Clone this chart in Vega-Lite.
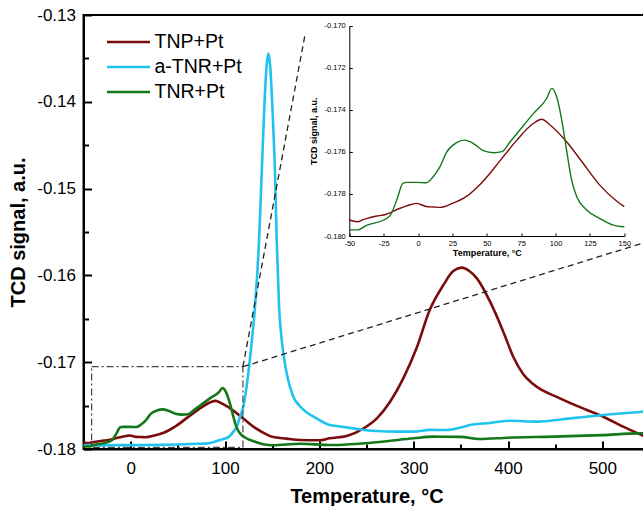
{
  "$schema": "https://vega.github.io/schema/vega-lite/v6.json",
  "width": 566,
  "height": 434,
  "autosize": {"type": "none"},
  "padding": {"left": 83.5, "top": 15, "right": 0, "bottom": 57},
  "config": {
    "font": "Liberation Sans",
    "view": {"stroke": "black", "strokeWidth": 2},
    "locale": {"number": {"decimal": ".", "thousands": ",", "grouping": [3], "currency": ["$", ""], "minus": "-"}},
    "axis": {"grid": false, "labelFlush": false, "labelOverlap": false, "domainColor": "black", "tickColor": "black", "labelColor": "black", "titleColor": "black", "ticks": true, "zindex": 1}
  },
  "datasets": {
    "d": [
      {"s": "TNP+Pt", "t": -50, "v": -0.17924}, {"s": "TNP+Pt", "t": -44, "v": -0.17932}, {"s": "TNP+Pt", "t": -40, "v": -0.17922}, {"s": "TNP+Pt", "t": -37, "v": -0.17916}, {"s": "TNP+Pt", "t": -30, "v": -0.17905}, {"s": "TNP+Pt", "t": -25, "v": -0.179}, {"s": "TNP+Pt", "t": -13, "v": -0.17868}, {"s": "TNP+Pt", "t": -5, "v": -0.1785}, {"s": "TNP+Pt", "t": -1, "v": -0.17845}, {"s": "TNP+Pt", "t": 6, "v": -0.1786}, {"s": "TNP+Pt", "t": 11, "v": -0.17862}, {"s": "TNP+Pt", "t": 16, "v": -0.17864}, {"s": "TNP+Pt", "t": 25, "v": -0.17845}, {"s": "TNP+Pt", "t": 35, "v": -0.17813}, {"s": "TNP+Pt", "t": 47, "v": -0.17742}, {"s": "TNP+Pt", "t": 60, "v": -0.17639}, {"s": "TNP+Pt", "t": 72, "v": -0.17543}, {"s": "TNP+Pt", "t": 84, "v": -0.17464}, {"s": "TNP+Pt", "t": 90, "v": -0.17445}, {"s": "TNP+Pt", "t": 96, "v": -0.17472}, {"s": "TNP+Pt", "t": 108, "v": -0.17552}, {"s": "TNP+Pt", "t": 120, "v": -0.17654}, {"s": "TNP+Pt", "t": 132, "v": -0.17757}, {"s": "TNP+Pt", "t": 145, "v": -0.17837}, {"s": "TNP+Pt", "t": 150, "v": -0.1786}, {"s": "TNP+Pt", "t": 165, "v": -0.1788}, {"s": "TNP+Pt", "t": 180, "v": -0.17896}, {"s": "TNP+Pt", "t": 200, "v": -0.179}, {"s": "TNP+Pt", "t": 211, "v": -0.17877}, {"s": "TNP+Pt", "t": 229, "v": -0.1785}, {"s": "TNP+Pt", "t": 247, "v": -0.17762}, {"s": "TNP+Pt", "t": 261, "v": -0.17647}, {"s": "TNP+Pt", "t": 275, "v": -0.17455}, {"s": "TNP+Pt", "t": 289, "v": -0.17186}, {"s": "TNP+Pt", "t": 303, "v": -0.1684}, {"s": "TNP+Pt", "t": 317, "v": -0.16399}, {"s": "TNP+Pt", "t": 331.5, "v": -0.16111}, {"s": "TNP+Pt", "t": 342, "v": -0.1595}, {"s": "TNP+Pt", "t": 351, "v": -0.15911}, {"s": "TNP+Pt", "t": 359, "v": -0.1595}, {"s": "TNP+Pt", "t": 367, "v": -0.16034}, {"s": "TNP+Pt", "t": 381, "v": -0.16303}, {"s": "TNP+Pt", "t": 395, "v": -0.16648}, {"s": "TNP+Pt", "t": 405.7, "v": -0.1694}, {"s": "TNP+Pt", "t": 416, "v": -0.17135}, {"s": "TNP+Pt", "t": 427, "v": -0.17255}, {"s": "TNP+Pt", "t": 455, "v": -0.17416}, {"s": "TNP+Pt", "t": 483.6, "v": -0.1755}, {"s": "TNP+Pt", "t": 501, "v": -0.17628}, {"s": "TNP+Pt", "t": 522, "v": -0.17743}, {"s": "TNP+Pt", "t": 541.6, "v": -0.17839}, {"s": "TNP+Pt", "t": 550, "v": -0.1788},
      {"s": "a-TNR+Pt", "t": -50, "v": -0.1796}, {"s": "a-TNR+Pt", "t": -45, "v": -0.17955}, {"s": "a-TNR+Pt", "t": -30, "v": -0.17958}, {"s": "a-TNR+Pt", "t": -15, "v": -0.17955}, {"s": "a-TNR+Pt", "t": 0, "v": -0.17955}, {"s": "a-TNR+Pt", "t": 12, "v": -0.17954}, {"s": "a-TNR+Pt", "t": 30, "v": -0.17952}, {"s": "a-TNR+Pt", "t": 50, "v": -0.17948}, {"s": "a-TNR+Pt", "t": 70, "v": -0.1794}, {"s": "a-TNR+Pt", "t": 82, "v": -0.17935}, {"s": "a-TNR+Pt", "t": 95, "v": -0.17896}, {"s": "a-TNR+Pt", "t": 104, "v": -0.1786}, {"s": "a-TNR+Pt", "t": 109, "v": -0.178}, {"s": "a-TNR+Pt", "t": 112.4, "v": -0.17743}, {"s": "a-TNR+Pt", "t": 116, "v": -0.17628}, {"s": "a-TNR+Pt", "t": 119.4, "v": -0.17513}, {"s": "a-TNR+Pt", "t": 124.7, "v": -0.17128}, {"s": "a-TNR+Pt", "t": 128, "v": -0.168}, {"s": "a-TNR+Pt", "t": 131.8, "v": -0.16361}, {"s": "a-TNR+Pt", "t": 136.1, "v": -0.15592}, {"s": "a-TNR+Pt", "t": 138.9, "v": -0.14824}, {"s": "a-TNR+Pt", "t": 141.7, "v": -0.14056}, {"s": "a-TNR+Pt", "t": 144, "v": -0.136}, {"s": "a-TNR+Pt", "t": 145.9, "v": -0.13441}, {"s": "a-TNR+Pt", "t": 148, "v": -0.136}, {"s": "a-TNR+Pt", "t": 150.2, "v": -0.14056}, {"s": "a-TNR+Pt", "t": 153, "v": -0.14824}, {"s": "a-TNR+Pt", "t": 154.8, "v": -0.15592}, {"s": "a-TNR+Pt", "t": 157.3, "v": -0.16361}, {"s": "a-TNR+Pt", "t": 160.1, "v": -0.16744}, {"s": "a-TNR+Pt", "t": 165.4, "v": -0.17128}, {"s": "a-TNR+Pt", "t": 172.4, "v": -0.17397}, {"s": "a-TNR+Pt", "t": 180, "v": -0.17513}, {"s": "a-TNR+Pt", "t": 197, "v": -0.17647}, {"s": "a-TNR+Pt", "t": 211, "v": -0.17724}, {"s": "a-TNR+Pt", "t": 222, "v": -0.1774}, {"s": "a-TNR+Pt", "t": 236, "v": -0.17762}, {"s": "a-TNR+Pt", "t": 247, "v": -0.17781}, {"s": "a-TNR+Pt", "t": 261, "v": -0.17793}, {"s": "a-TNR+Pt", "t": 282, "v": -0.178}, {"s": "a-TNR+Pt", "t": 300, "v": -0.178}, {"s": "a-TNR+Pt", "t": 317, "v": -0.1778}, {"s": "a-TNR+Pt", "t": 335, "v": -0.17781}, {"s": "a-TNR+Pt", "t": 353, "v": -0.17743}, {"s": "a-TNR+Pt", "t": 360, "v": -0.17724}, {"s": "a-TNR+Pt", "t": 381, "v": -0.177}, {"s": "a-TNR+Pt", "t": 402, "v": -0.17674}, {"s": "a-TNR+Pt", "t": 430, "v": -0.17685}, {"s": "a-TNR+Pt", "t": 466, "v": -0.17647}, {"s": "a-TNR+Pt", "t": 501, "v": -0.17608}, {"s": "a-TNR+Pt", "t": 541.6, "v": -0.1757}, {"s": "a-TNR+Pt", "t": 550, "v": -0.1756},
      {"s": "TNR+Pt", "t": -50, "v": -0.17971}, {"s": "TNR+Pt", "t": -44, "v": -0.17971}, {"s": "TNR+Pt", "t": -37, "v": -0.17948}, {"s": "TNR+Pt", "t": -25, "v": -0.17924}, {"s": "TNR+Pt", "t": -20, "v": -0.179}, {"s": "TNR+Pt", "t": -15.5, "v": -0.17829}, {"s": "TNR+Pt", "t": -11, "v": -0.1775}, {"s": "TNR+Pt", "t": -8, "v": -0.17745}, {"s": "TNR+Pt", "t": -1, "v": -0.17745}, {"s": "TNR+Pt", "t": 6, "v": -0.17747}, {"s": "TNR+Pt", "t": 11, "v": -0.17718}, {"s": "TNR+Pt", "t": 16, "v": -0.1767}, {"s": "TNR+Pt", "t": 21, "v": -0.17599}, {"s": "TNR+Pt", "t": 28, "v": -0.17556}, {"s": "TNR+Pt", "t": 34, "v": -0.17544}, {"s": "TNR+Pt", "t": 40, "v": -0.17559}, {"s": "TNR+Pt", "t": 47.5, "v": -0.17594}, {"s": "TNR+Pt", "t": 55, "v": -0.17604}, {"s": "TNR+Pt", "t": 61, "v": -0.17599}, {"s": "TNR+Pt", "t": 67, "v": -0.17552}, {"s": "TNR+Pt", "t": 74, "v": -0.17496}, {"s": "TNR+Pt", "t": 84, "v": -0.17417}, {"s": "TNR+Pt", "t": 93.6, "v": -0.17345}, {"s": "TNR+Pt", "t": 97.2, "v": -0.17298}, {"s": "TNR+Pt", "t": 100.8, "v": -0.17338}, {"s": "TNR+Pt", "t": 104.5, "v": -0.17448}, {"s": "TNR+Pt", "t": 108, "v": -0.17591}, {"s": "TNR+Pt", "t": 111.7, "v": -0.17734}, {"s": "TNR+Pt", "t": 115.4, "v": -0.17813}, {"s": "TNR+Pt", "t": 122.6, "v": -0.17876}, {"s": "TNR+Pt", "t": 132, "v": -0.17916}, {"s": "TNR+Pt", "t": 142, "v": -0.17948}, {"s": "TNR+Pt", "t": 150, "v": -0.17956}, {"s": "TNR+Pt", "t": 180, "v": -0.1794}, {"s": "TNR+Pt", "t": 211, "v": -0.17954}, {"s": "TNR+Pt", "t": 266, "v": -0.17916}, {"s": "TNR+Pt", "t": 300, "v": -0.17877}, {"s": "TNR+Pt", "t": 321, "v": -0.17858}, {"s": "TNR+Pt", "t": 350, "v": -0.1786}, {"s": "TNR+Pt", "t": 370, "v": -0.17885}, {"s": "TNR+Pt", "t": 400, "v": -0.1787}, {"s": "TNR+Pt", "t": 448, "v": -0.17858}, {"s": "TNR+Pt", "t": 500, "v": -0.1784}, {"s": "TNR+Pt", "t": 539, "v": -0.1782}, {"s": "TNR+Pt", "t": 550, "v": -0.1782}
    ],
    "box": [{"x1": -41.4, "x2": 119, "y1": -0.17981, "y2": -0.17052}],
    "conn": [
      {"x1": 119, "y1": -0.17052, "x2": 184.8, "y2": -0.1323},
      {"x1": 119, "y1": -0.17052, "x2": 550, "y2": -0.15604}
    ]
  },
  "resolve": {"scale": {"x": "independent", "y": "independent"}, "axis": {"x": "independent", "y": "independent"}},
  "layer": [
    {
      "resolve": {"axis": {"x": "independent", "y": "independent"}},
      "layer": [
        {
          "data": {"name": "d"},
          "mark": {"type": "line", "strokeWidth": 2.6, "interpolate": "monotone"},
          "encoding": {
            "x": {"field": "t", "type": "quantitative", "scale": {"domain": [-50, 550], "nice": false, "zero": false},
              "axis": {"orient": "bottom", "values": [0, 100, 200, 300, 400, 500], "tickSize": -8, "tickWidth": 2, "domainWidth": 2, "labelFontSize": 17, "labelPadding": 19, "title": "Temperature, °C", "titleFontSize": 20, "titleFontWeight": "bold", "titlePadding": 10}},
            "y": {"field": "v", "type": "quantitative", "scale": {"domain": [-0.18, -0.13], "nice": false, "zero": false},
              "axis": {"orient": "left", "values": [-0.18, -0.17, -0.16, -0.15, -0.14, -0.13], "format": ".2f", "tickSize": -8, "tickWidth": 2, "domainWidth": 2, "labelFontSize": 17, "labelPadding": 16, "title": "TCD signal, a.u.", "titleFontSize": 20, "titleFontWeight": "bold", "titlePadding": 8}},
            "color": {"field": "s", "type": "nominal",
              "scale": {"domain": ["TNP+Pt", "a-TNR+Pt", "TNR+Pt"], "range": ["#7a0c0c", "#1ec4ee", "#13781a"]},
              "legend": {"orient": "none", "legendX": 22, "legendY": 17, "title": null, "labelFontSize": 19.5, "symbolType": "stroke", "symbolSize": 1849, "symbolStrokeWidth": 2.5, "labelOffset": 3, "rowPadding": 5, "clipHeight": 20, "labelColor": "black"}}
          }
        },
        {
          "data": {"name": "box"},
          "mark": {"type": "rect", "fill": "transparent", "stroke": "#444444", "strokeWidth": 1.2, "strokeDash": [7, 3, 2, 3]},
          "encoding": {
            "x": {"field": "x1", "type": "quantitative", "scale": {"domain": [-50, 550], "nice": false, "zero": false},
              "axis": {"orient": "bottom", "values": [-50, 50, 150, 250, 350, 450, 550], "labels": false, "domain": false, "title": null, "tickSize": -5, "tickWidth": 2}},
            "x2": {"field": "x2"},
            "y": {"field": "y1", "type": "quantitative", "scale": {"domain": [-0.18, -0.13], "nice": false, "zero": false},
              "axis": {"orient": "left", "values": [-0.175, -0.165, -0.155, -0.145, -0.135], "labels": false, "domain": false, "title": null, "tickSize": -5, "tickWidth": 2}},
            "y2": {"field": "y2"}
          }
        },
        {
          "data": {"name": "conn"},
          "mark": {"type": "rule", "stroke": "#222222", "strokeWidth": 1.3, "strokeDash": [6, 4]},
          "encoding": {
            "x": {"field": "x1", "type": "quantitative", "scale": {"domain": [-50, 550], "nice": false, "zero": false}, "axis": null},
            "x2": {"field": "x2"},
            "y": {"field": "y1", "type": "quantitative", "scale": {"domain": [-0.18, -0.13], "nice": false, "zero": false}, "axis": null},
            "y2": {"field": "y2"}
          }
        }
      ]
    },
    {
      "data": {"name": "d"},
      "transform": [{"filter": "datum.s != 'a-TNR+Pt' && datum.t <= 150"}],
      "mark": {"type": "line", "strokeWidth": 1.4, "interpolate": "monotone"},
      "encoding": {
        "x": {"field": "t", "type": "quantitative", "scale": {"domain": [-50, 150], "range": [265.8, 540.8], "nice": false, "zero": false},
          "axis": {"orient": "bottom", "offset": -213, "values": [-50, -25, 0, 25, 50, 75, 100, 125, 150], "tickSize": -3, "tickWidth": 1, "domainWidth": 1, "labelFontSize": 7.5, "labelPadding": 6, "title": "Temperature, °C", "titleFontSize": 9, "titleFontWeight": "bold", "titlePadding": 2}},
        "y": {"field": "v", "type": "quantitative", "scale": {"domain": [-0.18, -0.17], "range": [221, 10.7], "nice": false, "zero": false},
          "axis": {"orient": "left", "offset": -265.8, "values": [-0.18, -0.178, -0.176, -0.174, -0.172, -0.17], "format": ".3f", "tickSize": -3, "tickWidth": 1, "domainWidth": 1, "labelFontSize": 7.5, "labelPadding": 7, "title": "TCD signal, a.u.", "titleFontSize": 9, "titleFontWeight": "bold", "titlePadding": 6}},
        "color": {"field": "s", "type": "nominal", "legend": null}
      }
    }
  ]
}
